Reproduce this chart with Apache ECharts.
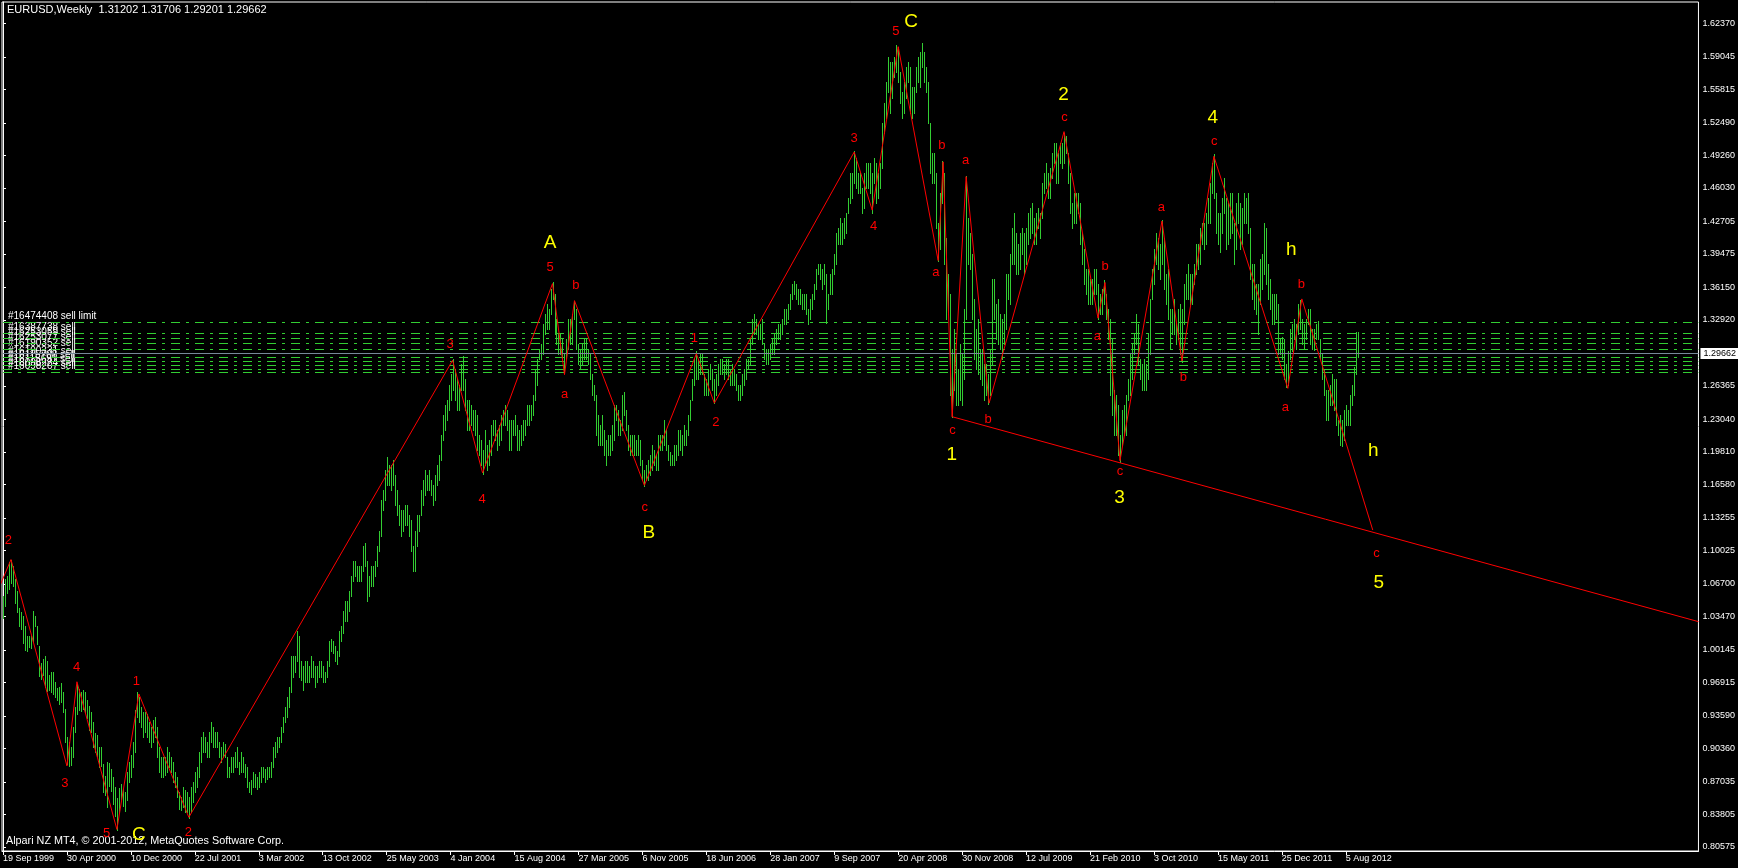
<!DOCTYPE html>
<html><head><meta charset="utf-8">
<script src="https://cdn.jsdelivr.net/npm/echarts@6/dist/echarts.min.js"></script>
<style>html,body{margin:0;padding:0;background:#000;}#c{width:1738px;height:868px;}</style>
</head><body><div id="c"></div>
<script>
// ---- tick labels ----
const xTickLabels = ['19 Sep 1999','30 Apr 2000','10 Dec 2000','22 Jul 2001','3 Mar 2002','13 Oct 2002','25 May 2003','4 Jan 2004','15 Aug 2004','27 Mar 2005','6 Nov 2005','18 Jun 2006','28 Jan 2007','9 Sep 2007','20 Apr 2008','30 Nov 2008','12 Jul 2009','21 Feb 2010','3 Oct 2010','15 May 2011','25 Dec 2011','5 Aug 2012'];
const xTickWeek = [0,32,64,96,128,160,192,224,256,288,320,352,384,416,448,480,512,544,576,608,640,672];
const yTickLabels = ['1.62370','1.59045','1.55815','1.52490','1.49260','1.46030','1.42705','1.39475','1.36150','1.32920','1.26365','1.23040','1.19810','1.16580','1.13255','1.10025','1.06700','1.03470','1.00145','0.96915','0.93590','0.90360','0.87035','0.83805','0.80575'];

// ---- weekly bars (week index 0 = 19 Sep 1999) ----
const highs = [
/*0*/ 1.0550,1.0720,1.0750,1.0890,1.0910,1.0850,1.0720,1.0600,1.0430,1.0390,
/*10*/1.0350,1.0250,1.0150,1.0150,1.0150,1.0400,1.0350,1.0250,1.0050,0.9880,
/*20*/0.9920,0.9950,0.9900,0.9770,0.9800,0.9800,0.9700,0.9640,0.9650,0.9690,
/*30*/0.9600,0.9430,0.9150,0.9100,0.9050,0.9250,0.9450,0.9680,0.9630,0.9600,
/*40*/0.9620,0.9600,0.9520,0.9460,0.9400,0.9300,0.9190,0.9170,0.9050,0.9050,
/*50*/0.8880,0.8760,0.8900,0.8890,0.8830,0.8750,0.8650,0.8540,0.8640,0.8680,
/*60*/0.8630,0.8600,0.8800,0.8900,0.8970,0.9100,0.9420,0.9595,0.9550,0.9450,
/*70*/0.9400,0.9400,0.9380,0.9300,0.9250,0.9320,0.9350,0.9250,0.9050,0.8950,
/*80*/0.8950,0.8950,0.9050,0.9000,0.8950,0.8900,0.8800,0.8750,0.8600,0.8550,
/*90*/0.8650,0.8620,0.8600,0.8550,0.8650,0.8700,0.8800,0.8850,0.9000,0.9150,
/*100*/0.9200,0.9150,0.9100,0.9200,0.9300,0.9250,0.9200,0.9200,0.9100,0.9050,
/*110*/0.9100,0.9080,0.8950,0.8850,0.8950,0.8950,0.9000,0.9050,0.8900,0.9000,
/*120*/0.8950,0.8880,0.8850,0.8700,0.8720,0.8800,0.8780,0.8750,0.8800,0.8850,
/*130*/0.8850,0.8830,0.8850,0.8850,0.8900,0.9050,0.9100,0.9150,0.9150,0.9250,
/*140*/0.9350,0.9450,0.9550,0.9650,0.9950,0.9950,0.9950,1.0200,1.0150,0.9900,
/*150*/0.9850,0.9900,0.9900,0.9850,0.9950,0.9900,0.9850,0.9850,0.9900,0.9900,
/*160*/0.9850,0.9800,0.9900,1.0100,1.0120,1.0100,1.0050,1.0000,1.0200,1.0250,
/*170*/1.0400,1.0500,1.0500,1.0600,1.0750,1.0900,1.0900,1.0850,1.0850,1.0850,
/*180*/1.1050,1.1080,1.0900,1.0750,1.0850,1.0850,1.0900,1.1050,1.1200,1.1500,
/*190*/1.1600,1.1800,1.1930,1.1850,1.1850,1.1900,1.1750,1.1600,1.1450,1.1400,
/*200*/1.1400,1.1450,1.1450,1.1350,1.1300,1.1050,1.1200,1.1350,1.1350,1.1600,
/*210*/1.1700,1.1800,1.1750,1.1800,1.1700,1.1650,1.1750,1.1850,1.1950,1.2150,
/*220*/1.2350,1.2450,1.2500,1.2650,1.2750,1.2900,1.2800,1.2700,1.2650,1.2850,
/*230*/1.2930,1.2700,1.2500,1.2500,1.2450,1.2400,1.2400,1.2350,1.2150,1.2100,
/*240*/1.2000,1.2200,1.2050,1.2100,1.2250,1.2300,1.2300,1.2200,1.2250,1.2350,
/*250*/1.2400,1.2450,1.2400,1.2300,1.2300,1.2300,1.2350,1.2250,1.2200,1.2250,
/*260*/1.2300,1.2300,1.2450,1.2450,1.2450,1.2550,1.2800,1.2900,1.3000,1.3050,
/*270*/1.3250,1.3350,1.3450,1.3400,1.3600,1.3670,1.3550,1.3300,1.3150,1.3150,
/*280*/1.3100,1.2950,1.3100,1.3300,1.3300,1.3350,1.3480,1.3400,1.3050,1.3000,
/*290*/1.3050,1.3100,1.3100,1.3000,1.2950,1.2750,1.2650,1.2550,1.2350,1.2250,
/*300*/1.2350,1.2200,1.2100,1.2150,1.2150,1.2250,1.2450,1.2450,1.2400,1.2300,
/*310*/1.2550,1.2580,1.2400,1.2250,1.2150,1.2150,1.2150,1.2100,1.2150,1.2100,
/*320*/1.1900,1.1800,1.1850,1.1900,1.1950,1.2050,1.2000,1.1950,1.2150,1.2150,
/*330*/1.2150,1.2300,1.2200,1.2050,1.1980,1.1950,1.2050,1.2050,1.2200,1.2200,
/*340*/1.2150,1.2250,1.2200,1.2350,1.2500,1.2700,1.2900,1.2980,1.2900,1.2950,
/*350*/1.2950,1.2750,1.2700,1.2800,1.2850,1.2800,1.2700,1.2750,1.2850,1.2900,
/*360*/1.2900,1.2850,1.2900,1.2900,1.2800,1.2850,1.2800,1.2750,1.2650,1.2650,
/*370*/1.2750,1.2800,1.2900,1.2900,1.3100,1.3300,1.3350,1.3300,1.3250,1.3250,
/*380*/1.3300,1.3050,1.3000,1.3000,1.3050,1.3100,1.3150,1.3200,1.3250,1.3250,
/*390*/1.3300,1.3400,1.3400,1.3450,1.3550,1.3650,1.3680,1.3650,1.3600,1.3600,
/*400*/1.3550,1.3550,1.3550,1.3400,1.3500,1.3550,1.3650,1.3800,1.3850,1.3850,
/*410*/1.3800,1.3850,1.3750,1.3550,1.3750,1.3800,1.3950,1.4150,1.4200,1.4300,
/*420*/1.4250,1.4300,1.4350,1.4500,1.4750,1.4750,1.4967,1.4900,1.4750,1.4750,
/*430*/1.4600,1.4750,1.4850,1.4850,1.4850,1.4750,1.4900,1.4850,1.4750,1.4850,
/*440*/1.5250,1.5450,1.5650,1.5900,1.5850,1.5850,1.5900,1.6020,1.6000,1.5750,
/*450*/1.5550,1.5650,1.5800,1.5850,1.5800,1.5600,1.5600,1.5800,1.5900,1.5950,
/*460*/1.6038,1.5950,1.5800,1.5650,1.5250,1.4950,1.4950,1.4750,1.4250,1.4550,
/*470*/1.4867,1.4750,1.4100,1.3750,1.3550,1.3000,1.3200,1.2950,1.2800,1.3050,
/*480*/1.2950,1.3400,1.4720,1.4300,1.4150,1.3950,1.3500,1.3200,1.3300,1.3000,
/*490*/1.3000,1.2850,1.2850,1.2750,1.3000,1.3700,1.3700,1.3450,1.3500,1.3350,
/*500*/1.3300,1.3350,1.3750,1.3750,1.3950,1.4200,1.4350,1.4150,1.4050,1.4150,
/*510*/1.4200,1.4150,1.4200,1.4350,1.4400,1.4450,1.4300,1.4350,1.4400,1.4350,
/*520*/1.4650,1.4750,1.4850,1.4750,1.4800,1.4950,1.5050,1.5050,1.4950,1.5050,
/*530*/1.5050,1.5145,1.5120,1.4950,1.4750,1.4450,1.4550,1.4550,1.4550,1.4450,
/*540*/1.4150,1.4000,1.3800,1.3800,1.3700,1.3700,1.3800,1.3800,1.3650,1.3550,
/*550*/1.3600,1.3690,1.3550,1.3400,1.3300,1.3100,1.2600,1.2550,1.2450,1.2150,
/*560*/1.2400,1.2450,1.2550,1.2700,1.2950,1.3050,1.3150,1.3350,1.3250,1.2900,
/*570*/1.2850,1.2900,1.2850,1.3150,1.3500,1.3800,1.4000,1.4150,1.4100,1.4050,
/*580*/1.4282,1.4100,1.3750,1.3800,1.3400,1.3400,1.3500,1.3250,1.3400,1.3450,
/*590*/1.3400,1.3650,1.3750,1.3850,1.3750,1.3750,1.3850,1.4050,1.4050,1.4200,
/*600*/1.4250,1.4250,1.4350,1.4500,1.4650,1.4850,1.4940,1.4550,1.4350,1.4350,
/*610*/1.4500,1.4700,1.4500,1.4450,1.4550,1.4550,1.4250,1.4450,1.4550,1.4450,
/*620*/1.4400,1.4550,1.4500,1.4550,1.4200,1.3850,1.3850,1.3650,1.3650,1.3900,
/*630*/1.3950,1.4250,1.4200,1.3850,1.3700,1.3550,1.3550,1.3550,1.3450,1.3100,
/*640*/1.3120,1.3100,1.2850,1.2980,1.3200,1.3250,1.3300,1.3250,1.3450,1.3486,
/*650*/1.3300,1.3250,1.3300,1.3400,1.3400,1.3200,1.3200,1.3250,1.3280,1.3100,
/*660*/1.2950,1.2800,1.2600,1.2600,1.2650,1.2750,1.2700,1.2700,1.2300,1.2350,
/*670*/1.2300,1.2400,1.2450,1.2400,1.2550,1.2650,1.2820,1.3170,1.3171
];
const lows = [
/*0*/ 1.0330,1.0450,1.0580,1.0620,1.0680,1.0650,1.0480,1.0390,1.0250,1.0220,
/*10*/1.0080,1.0010,1.0000,1.0040,1.0030,1.0100,1.0250,1.0070,0.9760,0.9730,
/*20*/0.9770,0.9650,0.9610,0.9620,0.9600,0.9580,0.9550,0.9520,0.9480,0.9500,
/*30*/0.9400,0.9100,0.8880,0.8860,0.8870,0.8950,0.9200,0.9380,0.9420,0.9410,
/*40*/0.9430,0.9400,0.9340,0.9220,0.9200,0.9050,0.9000,0.8960,0.8850,0.8860,
/*50*/0.8600,0.8570,0.8450,0.8660,0.8610,0.8480,0.8370,0.8230,0.8400,0.8530,
/*60*/0.8460,0.8410,0.8520,0.8700,0.8750,0.8850,0.9000,0.9350,0.9300,0.9250,
/*70*/0.9150,0.9200,0.9150,0.9100,0.9050,0.9100,0.9150,0.8950,0.8800,0.8750,
/*80*/0.8750,0.8770,0.8800,0.8850,0.8800,0.8700,0.8650,0.8550,0.8430,0.8420,
/*90*/0.8450,0.8400,0.8400,0.8350,0.8400,0.8500,0.8600,0.8650,0.8750,0.8900,
/*100*/0.9000,0.9000,0.8950,0.8950,0.9100,0.9050,0.9050,0.9050,0.8950,0.8900,
/*110*/0.8950,0.8950,0.8750,0.8750,0.8800,0.8800,0.8850,0.8850,0.8780,0.8800,
/*120*/0.8800,0.8750,0.8650,0.8600,0.8580,0.8650,0.8650,0.8630,0.8650,0.8700,
/*130*/0.8750,0.8700,0.8730,0.8750,0.8750,0.8850,0.8950,0.9000,0.9050,0.9100,
/*140*/0.9200,0.9300,0.9350,0.9450,0.9600,0.9750,0.9800,0.9900,0.9750,0.9720,
/*150*/0.9620,0.9700,0.9700,0.9700,0.9750,0.9750,0.9650,0.9700,0.9750,0.9750,
/*160*/0.9700,0.9700,0.9750,0.9850,1.0000,0.9980,0.9900,0.9870,0.9950,1.0100,
/*170*/1.0180,1.0300,1.0300,1.0400,1.0550,1.0700,1.0750,1.0700,1.0700,1.0700,
/*180*/1.0800,1.0850,1.0500,1.0550,1.0650,1.0650,1.0750,1.0850,1.1000,1.1150,
/*190*/1.1400,1.1500,1.1650,1.1650,1.1600,1.1650,1.1450,1.1350,1.1250,1.1150,
/*200*/1.1200,1.1250,1.1250,1.1150,1.1000,1.0800,1.0800,1.1050,1.1200,1.1350,
/*210*/1.1450,1.1550,1.1600,1.1600,1.1550,1.1450,1.1500,1.1650,1.1700,1.1900,
/*220*/1.2100,1.2200,1.2300,1.2400,1.2500,1.2600,1.2500,1.2400,1.2400,1.2600,
/*230*/1.2600,1.2400,1.2200,1.2200,1.2250,1.2200,1.2150,1.2000,1.1950,1.1850,
/*240*/1.1760,1.1850,1.1800,1.1850,1.1950,1.2150,1.2100,1.2000,1.2050,1.2100,
/*250*/1.2250,1.2250,1.2200,1.2000,1.2000,1.2150,1.2150,1.2000,1.2000,1.2050,
/*260*/1.2100,1.2150,1.2250,1.2250,1.2300,1.2350,1.2500,1.2650,1.2900,1.2900,
/*270*/1.2950,1.3150,1.3200,1.3200,1.3350,1.3500,1.3150,1.3050,1.2950,1.2950,
/*280*/1.2900,1.2770,1.2900,1.3000,1.3050,1.3050,1.3300,1.3000,1.2850,1.2800,
/*290*/1.2850,1.2900,1.2900,1.2850,1.2700,1.2550,1.2500,1.2150,1.2050,1.2050,
/*300*/1.2050,1.1950,1.1850,1.1950,1.1950,1.2000,1.2100,1.2300,1.2150,1.2150,
/*310*/1.2200,1.2350,1.2200,1.2000,1.1950,1.1950,1.1950,1.1950,1.1950,1.1850,
/*320*/1.1700,1.1640,1.1700,1.1700,1.1750,1.1800,1.1850,1.1800,1.1800,1.2000,
/*330*/1.2000,1.2050,1.2000,1.1900,1.1850,1.1850,1.1850,1.1900,1.1950,1.2000,
/*340*/1.1950,1.2050,1.2050,1.2150,1.2300,1.2500,1.2650,1.2700,1.2700,1.2750,
/*350*/1.2750,1.2550,1.2550,1.2550,1.2700,1.2600,1.2470,1.2550,1.2650,1.2750,
/*360*/1.2750,1.2700,1.2750,1.2700,1.2650,1.2650,1.2650,1.2600,1.2500,1.2500,
/*370*/1.2550,1.2650,1.2700,1.2800,1.2850,1.3050,1.3150,1.3150,1.3100,1.3100,
/*380*/1.3050,1.2900,1.2850,1.2850,1.2900,1.2950,1.2950,1.3050,1.3100,1.3100,
/*390*/1.3150,1.3250,1.3250,1.3300,1.3400,1.3500,1.3550,1.3500,1.3450,1.3450,
/*400*/1.3400,1.3400,1.3350,1.3250,1.3300,1.3400,1.3500,1.3600,1.3750,1.3700,
/*410*/1.3600,1.3650,1.3260,1.3400,1.3550,1.3550,1.3750,1.3850,1.4050,1.4050,
/*420*/1.4050,1.4100,1.4150,1.4350,1.4450,1.4500,1.4650,1.4600,1.4550,1.4550,
/*430*/1.4350,1.4400,1.4600,1.4600,1.4550,1.4350,1.4650,1.4450,1.4500,1.4600,
/*440*/1.4800,1.5150,1.5300,1.5550,1.5350,1.5500,1.5700,1.5750,1.5650,1.5450,
/*450*/1.5300,1.5350,1.5500,1.5650,1.5350,1.5300,1.5350,1.5550,1.5650,1.5600,
/*460*/1.5800,1.5650,1.5550,1.5250,1.4750,1.4650,1.4650,1.4200,1.3880,1.4000,
/*470*/1.4450,1.3850,1.3300,1.3350,1.2550,1.2330,1.2600,1.2450,1.2450,1.2500,
/*480*/1.2450,1.2700,1.3300,1.3850,1.3800,1.3300,1.2900,1.2800,1.2750,1.2700,
/*490*/1.2650,1.2500,1.2550,1.2456,1.2550,1.2850,1.3300,1.3100,1.3050,1.3000,
/*500*/1.2900,1.3050,1.3200,1.3500,1.3450,1.3850,1.3850,1.3750,1.3750,1.3800,
/*510*/1.3950,1.3750,1.3850,1.4050,1.4100,1.4150,1.4050,1.4050,1.4200,1.4100,
/*520*/1.4300,1.4550,1.4600,1.4500,1.4500,1.4700,1.4850,1.4650,1.4650,1.4850,
/*530*/1.4800,1.4850,1.4950,1.4650,1.4350,1.4200,1.4250,1.4250,1.4350,1.4050,
/*540*/1.3850,1.3650,1.3550,1.3450,1.3450,1.3450,1.3550,1.3550,1.3300,1.3350,
/*550*/1.3350,1.3450,1.3300,1.3100,1.2550,1.2350,1.2150,1.2150,1.1950,1.1876,
/*560*/1.2050,1.2150,1.2150,1.2500,1.2550,1.2700,1.2950,1.3050,1.2850,1.2700,
/*570*/1.2600,1.2600,1.2600,1.2700,1.2950,1.3500,1.3650,1.3850,1.3800,1.3700,
/*580*/1.3850,1.3600,1.3450,1.3300,1.3000,1.3150,1.3150,1.3050,1.3100,1.2950,
/*590*/1.2870,1.3250,1.3500,1.3500,1.3450,1.3450,1.3650,1.3750,1.3800,1.3850,
/*600*/1.4050,1.4000,1.4050,1.4250,1.4250,1.4550,1.4500,1.4150,1.4050,1.3970,
/*610*/1.4150,1.4350,1.4000,1.4050,1.4100,1.4150,1.3850,1.4000,1.4250,1.4000,
/*620*/1.4050,1.4250,1.4250,1.4150,1.3700,1.3500,1.3400,1.3350,1.3150,1.3450,
/*630*/1.3600,1.3750,1.3650,1.3500,1.3400,1.3250,1.3250,1.3300,1.2950,1.2950,
/*640*/1.2900,1.2700,1.2624,1.2650,1.2900,1.2980,1.3100,1.3000,1.3150,1.3200,
/*650*/1.3050,1.3000,1.3100,1.3250,1.3050,1.3000,1.2990,1.3100,1.3100,1.2900,
/*660*/1.2700,1.2550,1.2300,1.2300,1.2450,1.2450,1.2400,1.2250,1.2150,1.2050,
/*670*/1.2040,1.2100,1.2250,1.2250,1.2250,1.2450,1.2550,1.2750,1.2920
];

// ---- Elliott wave zigzag (week index, price) ----
const waveWeek  = [-2, 4, 32, 37, 57, 68, 93, 225, 240, 275, 281, 286, 321, 347, 356, 426, 435, 448, 468, 470.5, 475, 482, 493.5, 531, 548, 551.5, 559, 580, 590, 606, 643, 650, 685.5];
const wavePrice = [1.063, 1.0912, 0.8862, 0.9698, 0.8232, 0.9577, 0.8352, 1.2890, 1.1773, 1.3652, 1.2748, 1.3483, 1.1648, 1.2955, 1.2465, 1.4959, 1.4382, 1.6005, 1.3881, 1.4861, 1.2329, 1.4714, 1.2465, 1.5161, 1.3309, 1.3663, 1.1893, 1.4273, 1.2884, 1.4916, 1.2612, 1.3500, 1.1205];
// lower trend line
const trendWeek  = [475.2, 848.5];
const trendPrice = [1.2329, 1.0295];

// ---- wave labels ----
const redText  = ['2','3','4','5','1','2','3','4','5','a','b','c','1','2','3','4','5','a','b','c','a','b','c','a','b','c','a','b','c','a','b','c'];
const redWeek  = [2.7,31,36.8,51.8,66.8,92.8,223.8,239.8,273.8,281,286.7,321.2,346,356.8,426,435.7,446.8,466.8,469.8,475.2,481.8,493,531.2,547.7,551.5,559,579.7,590.7,606.2,641.8,649.8,687.4];
const redPrice = [1.1106,0.8691,0.9840,0.8190,0.9698,0.8200,1.3048,1.1512,1.3816,1.2547,1.3636,1.1431,1.3108,1.2275,1.5090,1.4219,1.6158,1.3761,1.5025,1.2193,1.4873,1.2302,1.5298,1.3130,1.3827,1.1784,1.4410,1.2722,1.5063,1.2427,1.3647,1.0976];
const yelText  = ['C','A','B','C','1','2','3','4','h','h','5'];
const yelWeek  = [68,273.8,323.2,454.5,474.8,530.7,558.8,605.5,644.7,685.7,688.5];
const yelPrice = [0.8180,1.4055,1.1174,1.6255,1.1948,1.5526,1.1528,1.5298,1.3991,1.1989,1.0679];

// ---- order lines ----
const orderPrice  = [1.3271,1.3159,1.3115,1.3062,1.2999,1.2920,1.2884,1.2841,1.2807,1.2777];
const orderTicket = ['#16474408 sell limit','#16387738 sell','#16253059 sell','#16253077 sell','#16190352 sell','#16190331 sell','#16115708 sell','#16115691 sell','#16098224 sell','#16098207 sell'];
const bidPrice = 1.29662;
const headerText = 'EURUSD,Weekly  1.31202 1.31706 1.29201 1.29662';
const footerText = 'Alpari NZ MT4, \u00a9 2001-2012, MetaQuotes Software Corp.';

const FONT = '"Liberation Sans", Arial, sans-serif';
const GREEN = '#32cd32';
const yTickValues = yTickLabels.map(Number);

function textSeries(texts, weeks, prices, color, size) {
  return {
    type: 'custom', silent: true, clip: false, z: 20,
    data: weeks.map((w, i) => [w, prices[i]]),
    encode: { x: 0, y: 1 },
    renderItem(params, api) {
      const p = api.coord([api.value(0), api.value(1)]);
      return { type: 'text', x: p[0], y: p[1],
        style: { text: texts[params.dataIndex], fill: color, font: size + 'px ' + FONT, align: 'center', verticalAlign: 'middle' } };
    }
  };
}

const chart = echarts.init(document.getElementById('c'), null, { renderer: 'canvas' });
chart.setOption({
  backgroundColor: '#000',
  animation: false,
  grid: { left: 2, top: 2, width: 1698, height: 849, show: true, borderColor: '#fff', borderWidth: 1, backgroundColor: '#000' },
  xAxis: {
    type: 'value', min: -0.5, max: 848.5,
    axisLine: { show: true, lineStyle: { color: '#fff', width: 1 } },
    axisTick: { show: true, customValues: xTickWeek, length: 4, lineStyle: { color: '#fff' } },
    axisLabel: { customValues: xTickWeek, formatter: v => xTickLabels[xTickWeek.indexOf(Math.round(v))] || '',
      color: '#fff', fontSize: 9, fontFamily: FONT, align: 'left', margin: 3, padding: [0, 0, 0, 0] },
    splitLine: { show: false }
  },
  yAxis: {
    type: 'value', position: 'right', min: 0.80175, max: 1.64485,
    axisLine: { show: true, lineStyle: { color: '#fff', width: 1 } },
    axisTick: { show: true, customValues: yTickValues, length: 3, lineStyle: { color: '#fff' } },
    axisLabel: { customValues: yTickValues, formatter: v => v.toFixed(5), color: '#fff', fontSize: 9, fontFamily: FONT, margin: 4 },
    splitLine: { show: false }
  },
  graphic: [
    { type: 'text', left: 7, top: 4, style: { text: headerText, fill: '#fff', font: '11px ' + FONT } },
    { type: 'text', left: 6, top: 836, style: { text: footerText, fill: '#fff', font: '10.8px ' + FONT } }
  ],
  series: [
    { // weekly bars
      type: 'custom', silent: true, z: 2,
      data: highs.map((h, i) => [i, lows[i], h]),
      encode: { x: 0, y: [1, 2] },
      renderItem(params, api) {
        const w = api.value(0);
        const lo = api.coord([w, api.value(1)]);
        const hi = api.coord([w, api.value(2)]);
        const x = Math.round(lo[0]) + 0.5;
        return { type: 'line', shape: { x1: x, y1: Math.round(hi[1]), x2: x, y2: Math.round(lo[1]) + 1 },
          style: { stroke: GREEN, lineWidth: 1 } };
      }
    },
    { // order ticket texts (drawn under the lines)
      type: 'custom', silent: true, clip: false, z: 3,
      data: orderPrice.map(p => [0, p]),
      encode: { x: 0, y: 1 },
      renderItem(params, api) {
        const cs = params.coordSys;
        const y = Math.round(api.coord([0, api.value(1)])[1]);
        return { type: 'text', x: cs.x + 6, y: y - 6,
          style: { text: orderTicket[params.dataIndex], fill: '#fff', font: '10px ' + FONT, align: 'left', verticalAlign: 'middle' } };
      }
    },
    { // order lines
      type: 'custom', silent: true, clip: false, z: 4,
      data: orderPrice.map(p => [0, p]),
      encode: { x: 0, y: 1 },
      renderItem(params, api) {
        const cs = params.coordSys;
        const y = Math.round(api.coord([0, api.value(1)])[1]) + 0.5;
        return { type: 'line', shape: { x1: cs.x + 1, y1: y, x2: cs.x + cs.width, y2: y },
          style: { stroke: GREEN, lineWidth: 1, lineDash: [9, 6, 3, 6] } };
      }
    },
    { // bid line + price box
      type: 'custom', silent: true, clip: false, z: 6,
      data: [[0, bidPrice]],
      encode: { x: 0, y: 1 },
      renderItem(params, api) {
        const cs = params.coordSys;
        const y = Math.round(api.coord([0, api.value(1)])[1]) + 0.5;
        const right = cs.x + cs.width;
        return { type: 'group', children: [
          { type: 'line', shape: { x1: cs.x + 1, y1: y, x2: right, y2: y }, style: { stroke: '#778899', lineWidth: 1 } },
          { type: 'rect', shape: { x: right + 2, y: y - 5.5, width: 40, height: 11 }, style: { fill: '#fff' } },
          { type: 'text', x: right + 5, y: y, style: { text: bidPrice.toFixed(5), fill: '#000', font: '9px ' + FONT, align: 'left', verticalAlign: 'middle' } }
        ] };
      }
    },
    { // wave zigzag
      type: 'line', z: 7, clip: true, showSymbol: false, symbol: 'none', silent: true,
      data: waveWeek.map((w, i) => [w, wavePrice[i]]),
      lineStyle: { color: '#ff0000', width: 1 }
    },
    { // trend line
      type: 'line', z: 7, clip: true, showSymbol: false, symbol: 'none', silent: true,
      data: trendWeek.map((w, i) => [w, trendPrice[i]]),
      lineStyle: { color: '#ff0000', width: 1 }
    },
    textSeries(redText, redWeek, redPrice, '#ff0000', 13),
    textSeries(yelText, yelWeek, yelPrice, '#ffff00', 19)
  ]
});
</script>
</body></html>
